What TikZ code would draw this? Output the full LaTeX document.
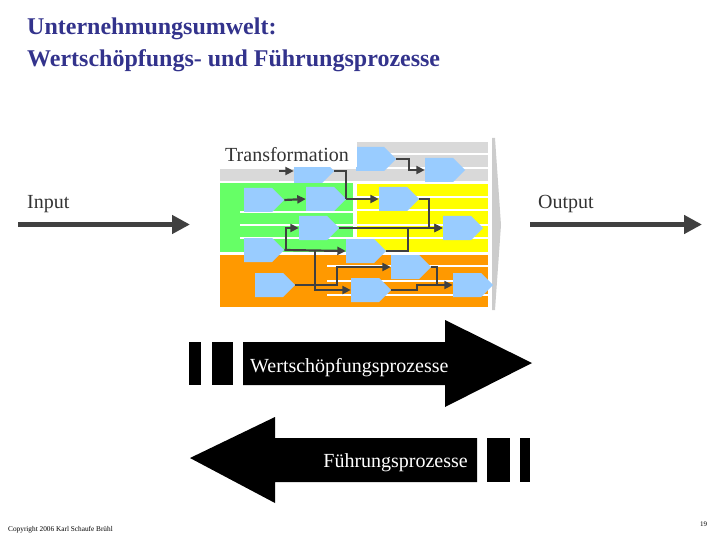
\documentclass[tikz,border=0pt]{standalone}
\usepackage{fontspec}
\setmainfont{Liberation Serif}
\usetikzlibrary{shapes.symbols,arrows.meta,calc}
\definecolor{procblue}{RGB}{153,204,255}
\definecolor{pgray}{RGB}{217,217,217}
\definecolor{pgreen}{RGB}{102,255,102}
\definecolor{pyellow}{RGB}{255,255,0}
\definecolor{porange}{RGB}{255,153,0}
\definecolor{conn}{RGB}{64,64,64}
\definecolor{titleblue}{RGB}{51,51,140}
\begin{document}
\begin{tikzpicture}[x=1pt,y=-1pt,
  proc/.style={signal, signal to=east, fill=procblue, draw=none, minimum width=40pt, minimum height=24pt, inner sep=0pt},
  link/.style={draw=conn, line width=2.2pt},
  flow/.style={link, -{Triangle[length=8.5pt,width=8pt]}},
  stripe/.style={draw=white, line width=2.5pt},
  lbl/.style={font=\fontsize{20}{24}\selectfont, text=black!80, inner sep=0pt},
  titletext/.style={font=\bfseries\fontsize{24}{28}\selectfont, text=titleblue, inner sep=0pt, anchor=base west},
  io/.style={draw=conn, line width=5pt, -{Triangle[length=18pt,width=18pt]}},
  bigarrow/.style={fill=black, draw=none}]
\useasboundingbox (0,0) rectangle (720,540);

% title
\node[titletext] (t1) at (27,35) {Unternehmungsumwelt:};
\node[titletext] (t2) at (27,67) {Wertschöpfungs- und Führungsprozesse};

% panels
\fill[pgray] (220,142) rectangle (488,181);
\foreach \yy in {154,168} \draw[stripe] (220,\yy) -- (488,\yy);
\fill[pgreen] (220,183) rectangle (353,252);
\foreach \yy in {212,225,238} \draw[stripe] (240,\yy) -- (353,\yy);
\fill[pyellow] (357,184) rectangle (488,252);
\foreach \yy in {197,210,225,238} \draw[stripe] (357,\yy) -- (488,\yy);
\fill[porange] (220,255) rectangle (488,307);
\foreach \yy in {266,281,295} \draw[stripe] (327,\yy) -- (488,\yy);
\fill[gray!40] (492,138) -- (495,138) -- (501,225) -- (495,310) -- (492,310) -- cycle;

% process shapes
\node[proc] (s1) at (370,159) {};
\node[proc] (s2) at (439,170) {};
\node[proc] (s3) at (308,171) {};
\node[proc] (s4) at (258,200) {};
\node[proc] (s5) at (320,199) {};
\node[proc] (s6) at (393,199) {};
\node[proc] (s7) at (313,228) {};
\node[proc] (s8) at (457,228) {};
\node[proc] (s9) at (258,250) {};
\node[proc] (s10) at (360,251) {};
\node[proc] (s11) at (405,267) {};
\node[proc] (s12) at (269,285) {};
\node[proc] (s13) at (365,290) {};
\node[proc] (s14) at (467,285) {};

% label with white background
\fill[white] (220,138) rectangle (357,167);
\node[lbl, anchor=base west] (trans) at (225,162) {Transformation};

% connectors
\coordinate (s3in) at (279,171);
\draw[flow] (s3in) -- (s3.west);
\draw[flow] (s1.east) -- ++(13,0) |- (s2.west);
\draw[flow] (s4.east) -- (s5.west);
\draw[flow] (s5.east) -- (s6.west);
\coordinate (j1) at (346,199);
\draw[link] (s3.east) -| (j1);
\draw[flow] (s6.east) -- ++(10,0) |- (s8.west);
\draw[flow] (s7.east) -- (s8.west);
\draw[flow] (s9.east) -- (s10.west);
\coordinate (b1) at (286,250);
\coordinate (b2) at (315,250);
\draw[flow] (b1) |- (s7.west);
\draw[flow] (b2) |- (s13.west);
\coordinate (j2) at (408,228);
\draw[link] (s10.east) -| (j2);
\coordinate (k1) at (337,285);
\draw[flow] (s12.east) -- (k1) |- (s11.west);
\coordinate (k2) at (437,267);
\draw[flow] (s11.east) -- (k2) |- (s14.west);
\coordinate (k3) at (417,290);
\draw[link] (s13.east) -- (k3) -- (417,285) -- (437,285);

% input / output
\coordinate (inA) at (18,224.5);
\coordinate (inB) at (190,224.5);
\coordinate (outA) at (530,224.5);
\coordinate (outB) at (702,224.5);
\draw[io] (inA) -- (inB);
\draw[io] (outA) -- (outB);
\node[lbl, anchor=base west] (input) at (27,208) {Input};
\node[lbl, anchor=base west] (output) at (538,208) {Output};

% big arrows
\fill[bigarrow] (189,342) rectangle (201,385);
\fill[bigarrow] (212,342) rectangle (233,385);
\fill[bigarrow] (243,342) -- (445,342) -- (445,320) -- (532,363) -- (445,407) -- (445,385) -- (243,385) -- cycle;
\node[lbl, text=white, anchor=base west] (wsp) at (250,372) {Wertschöpfungsprozesse};

\fill[bigarrow] (190,458) -- (275,417) -- (275,438) -- (477,438) -- (477,482) -- (275,482) -- (275,503) -- cycle;
\fill[bigarrow] (487,438) rectangle (510,482);
\fill[bigarrow] (520,438) rectangle (530,482);
\node[lbl, text=white, anchor=base east] (fp) at (468,467) {Führungsprozesse};

% footer
\node[anchor=base west, inner sep=0pt, font=\fontsize{7.3}{9}\selectfont] (copy) at (8,531) {Copyright 2006 Karl Schaufe Brühl};
\node[anchor=base west, inner sep=0pt, font=\fontsize{7}{9}\selectfont] (page) at (700,526.5) {19};
\end{tikzpicture}
\end{document}
